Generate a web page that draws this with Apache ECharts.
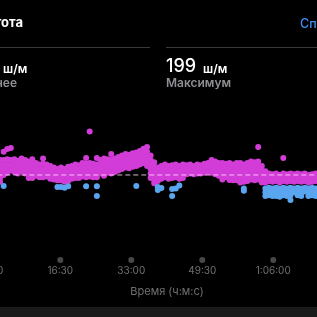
<!DOCTYPE html>
<html>
<head>
<meta charset="utf-8">
<script src="https://cdn.jsdelivr.net/npm/echarts@6/dist/echarts.min.js"></script>
<style>
html,body{margin:0;padding:0;background:#000;}
#chart{width:317px;height:317px;}
</style>
</head>
<body>
<div id="chart"></div>
<script>
// x-axis ticks (seconds) and their labels
const tickTimes = [0, 990, 1980, 2970, 3960];
const tickLabels = ['00:00', '16:30', '33:00', '49:30', '1:06:00'];

// summary values (steps per minute)
const avgCadence = 170;
const maxCadence = 199;

// sample window start times (seconds)
const sampleTime = [150,200,250,300,350,400,450,500,550,600,
  650,700,750,800,850,900,950,1000,1050,1100,
  1150,1200,1250,1300,1350,1400,1450,1500,1550,1600,
  1650,1700,1750,1800,1850,1900,1950,2000,2050,2100,
  2150,2200,2250,2300,2350,2400,2450,2500,2550,2600,
  2650,2700,2750,2800,2850,2900,2950,3000,3050,3100,
  3150,3200,3250,3300,3350,3400,3450,3500,3550,3600,
  3650,3700,3750,3800,3850,3900,3950,4000,4050,4100,
  4150,4200,4250,4300,4350,4400,4450,4500,4550];

// cadence readings in each window (steps per minute)
const cadence = [
  [180,177,174,171,168,165.5],
  [185.5,180,176.5,173,170,162.7],
  [187.3,180.5,177,174,171.5],
  [188,180,176.5,173],
  [180.5,177.5,174.5,172],
  [179.5,176.5,173.5,171],
  [181,178,175,172.5],
  [180,177,174,171],
  [179,176,173,170.5,168],
  [180.5,177,173.5,170,168],
  [178,175,172,169.5],
  [177,174,171,168.5],
  [181,177.5,174,171,168.5],
  [177,174,171,169],
  [176,173,170,167.5],
  [175,172,169.5,167],
  [174,171.5,169,166.5,162],
  [175,172,169,166.5,162],
  [174,171,168,165.5,161.5],
  [175.5,172,169,166,162.5],
  [176,173,170,167.5],
  [177,174,171,168],
  [176.5,173.5,170.5,168],
  [178,175,172,169],
  [181.3,177.5,174.5,171.5,168.5,162.5],
  [199,178,175,172,169],
  [177.5,174.5,171.5,168.5],
  [181.3,177,174,171,168.5,162.5,156],
  [180,177,174,171],
  [181,178,175,172,169.5],
  [180.5,177.5,174.5,171.5],
  [184,180,177,174,171],
  [181,178,175,172],
  [182,179,176,173],
  [183,180,177,174],
  [184,181,178,175],
  [183.5,180.5,177.5,174.5],
  [184.5,181.5,178.5,175.5],
  [185,182,179,176,162.7],
  [186,183,180,177],
  [187.5,184,181,178],
  [188.7,185.5,182,179,176],
  [183,180,177,174,171,168],
  [178.5,175.5,172.5,169.5,166.5,164.5],
  [175,172,169,166,162,160],
  [176,173,170,167.5,161.3],
  [177,174,171,168.5],
  [176,173,170,167.5],
  [176.5,173.5,170.5,168,160.7,156],
  [177,174,171,168.5,161],
  [176,173,170,167.5,163],
  [177,174,171,168],
  [176.5,173.5,170.5],
  [177,174,171],
  [176,173,170.5],
  [177,174,171],
  [176.5,173.5,171],
  [177.5,174.5,171.5],
  [178,175,172],
  [180,177,174,171.5],
  [179,176,173,170.5],
  [178,175,172,169.5],
  [178,175,172,169,167],
  [177.5,174.5,171.5,168.5],
  [178,175,172,169,166.7],
  [177,174,171,168,166.5],
  [178,175,172,169,166.5],
  [178,175,172,169,166,165],
  [177,174,171,168,165.5,161,159.5],
  [178,175,172,169,166],
  [179,176,173,170,167],
  [178.5,175.5,172.5,169.5,166.5],
  [188.7,179,176,173,170,167],
  [176,173,170,167,165],
  [172.5,170,167.5,165,161,158.5,156],
  [171,168.5,166,161.5,159,156.5],
  [170.5,168,165.5,161,158.5,156],
  [171,168.5,166,161.5,159,156],
  [170,167.5,165,161,158.5,155.5],
  [181.3,171,168.5,166,161.5,159,156.5],
  [170.5,168,165.5,161,158.5,156],
  [171,168.5,166,161.5,159,156.5,153.3],
  [170.5,168,165.5,161,158.5],
  [171,168.5,166,161.5,159,156.5],
  [170.5,168,165.5,161,158.5,156],
  [171,168.5,166,161.5,159],
  [170,167.5,165,161,158.5,156],
  [170.5,168,165.5,161.5,159,156.5],
  [171,168.5,166,161,158.5,156]
];

const xMin = 0, xMax = 4570;
const yMin = 113.3, yMax = 210;
const threshold = 164;

const points = [];
sampleTime.forEach((t, i) => {
  (cadence[i] || []).forEach(v => points.push([t, v]));
});

const FONT = 'Inter, "Noto Sans", sans-serif';
const chart = echarts.init(document.getElementById('chart'), null, {renderer: 'canvas'});

chart.setOption({
  backgroundColor: '#000',
  animation: false,
  grid: {left: -10.7, right: 0, top: 115, bottom: 57, containLabel: false, outerBoundsMode: 'none'},
  xAxis: {
    type: 'value', min: xMin, max: xMax,
    axisLine: {show: false}, axisTick: {show: false}, splitLine: {show: false},
    axisLabel: {
      customValues: tickTimes,
      formatter: v => { const i = tickTimes.indexOf(v); return i >= 0 ? tickLabels[i] : ''; },
      color: '#707070', fontSize: 10, fontFamily: FONT, margin: 6
    }
  },
  yAxis: {type: 'value', min: yMin, max: yMax, show: false},
  visualMap: {
    type: 'piecewise', show: false, seriesIndex: 0, dimension: 1,
    pieces: [{gte: threshold, color: '#d23cd7'}, {lt: threshold, color: '#5aa5f0'}]
  },
  series: [
    {
      type: 'scatter', data: points, symbolSize: 6,
      itemStyle: {opacity: 1}, z: 2, silent: true
    },
    {
      type: 'line', data: [[xMin, avgCadence], [xMax, avgCadence]],
      symbol: 'none', silent: true, z: 3,
      lineStyle: {color: 'rgba(255,215,250,0.85)', width: 1, type: [5, 3]}
    },
    {
      type: 'scatter', data: tickTimes.map(t => [t, yMin]), symbolSize: 6,
      itemStyle: {color: '#5a5a5a'}, clip: false, silent: true, z: 2
    }
  ],
  graphic: [
    {type: 'text', x: 23, y: 23, style: {text: 'Частота', fill: '#fff', font: 'bold 13px ' + FONT, align: 'right', verticalAlign: 'middle'}},
    {type: 'text', x: 300, y: 24, style: {text: 'Справка', fill: '#3f8ff5', font: '500 12.5px ' + FONT, align: 'left', verticalAlign: 'middle'}},
    {type: 'line', shape: {x1: 0, y1: 47.5, x2: 150, y2: 47.5}, style: {stroke: '#3a3a3c', lineWidth: 1}},
    {type: 'line', shape: {x1: 166, y1: 47.5, x2: 317, y2: 47.5}, style: {stroke: '#3a3a3c', lineWidth: 1}},
    {type: 'text', x: -1, y: 66.5, style: {text: String(avgCadence), fill: '#fff', font: '500 18px ' + FONT, align: 'right', verticalAlign: 'middle'}},
    {type: 'text', x: 3, y: 69, style: {text: 'ш/м', fill: '#fff', font: '600 12px ' + FONT, align: 'left', verticalAlign: 'middle'}},
    {type: 'text', x: 17, y: 83.5, style: {text: 'Среднее', fill: '#8e8e93', font: '600 12px ' + FONT, align: 'right', verticalAlign: 'middle'}},
    {type: 'text', x: 166, y: 66.5, style: {text: String(maxCadence), fill: '#fff', font: '500 18px ' + FONT, align: 'left', verticalAlign: 'middle'}},
    {type: 'text', x: 203, y: 69, style: {text: 'ш/м', fill: '#fff', font: '600 12px ' + FONT, align: 'left', verticalAlign: 'middle'}},
    {type: 'text', x: 166, y: 83.5, style: {text: 'Максимум', fill: '#8e8e93', font: '600 12px ' + FONT, align: 'left', verticalAlign: 'middle'}},
    {type: 'text', x: 167, y: 291.5, style: {text: 'Время (ч:м:с)', fill: '#707070', font: '11px ' + FONT, align: 'center', verticalAlign: 'middle'}},
    {type: 'rect', shape: {x: 0, y: 307, width: 317, height: 10}, style: {fill: '#1a1a1a'}}
  ]
});
</script>
</body>
</html>
